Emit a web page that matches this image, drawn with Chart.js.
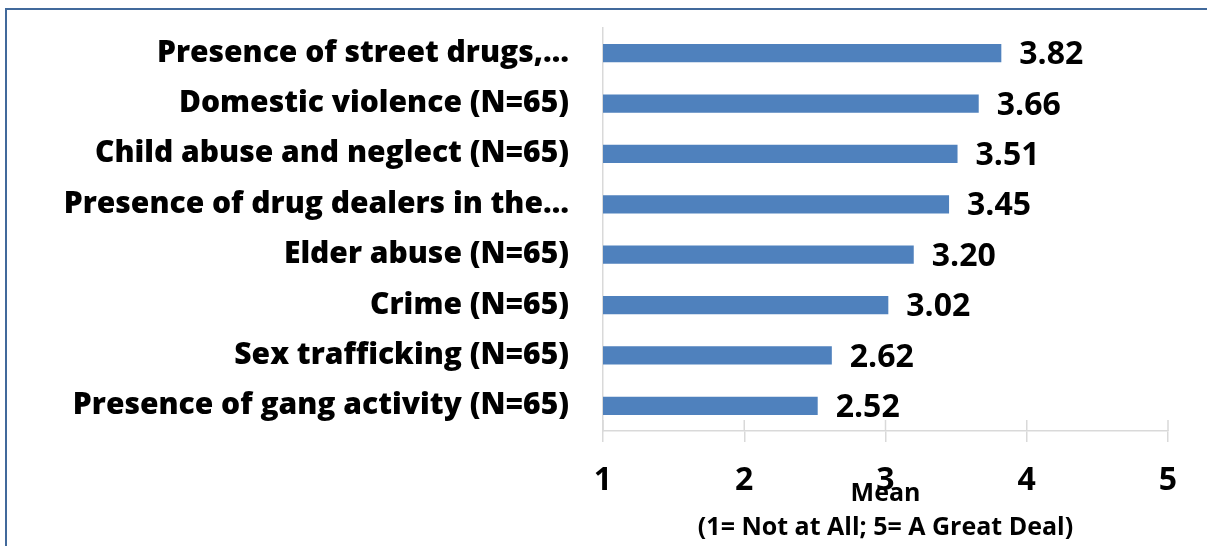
<!DOCTYPE html>
<html>
<head>
<meta charset="utf-8">
<script src="https://cdn.jsdelivr.net/npm/chart.js@4/dist/chart.umd.min.js"></script>
<style>
  html, body { margin: 0; padding: 0; background: #fff; overflow: hidden; width: 1207px; height: 546px; }
  #frame { position: absolute; left: 5px; top: 8px; width: 1400px; height: 800px;
           border-left: 2px solid #41699b; border-top: 2px solid #41699b; }
  #c { position: absolute; left: 0; top: 0; }
</style>
</head>
<body>
<div id="frame"></div>
<canvas id="c" width="1207" height="546"></canvas>
<script>
const categories = [
  "Presence of street drugs,\u2026",
  "Domestic violence (N=65)",
  "Child abuse and neglect (N=65)",
  "Presence of drug dealers in the\u2026",
  "Elder abuse (N=65)",
  "Crime (N=65)",
  "Sex trafficking (N=65)",
  "Presence of gang activity (N=65)"
];
const means = [3.82, 3.66, 3.51, 3.45, 3.20, 3.02, 2.62, 2.52];
const xTickValues = [1, 2, 3, 4, 5];
const xTitleLines = ["Mean", "(1= Not at All; 5= A Great Deal)"];

const FONT = "'Open Sans', sans-serif";
const GRID = "#d9d9d9";

const extras = {
  id: "extras",
  afterDatasetsDraw(chart) {
    const ctx = chart.ctx;
    const meta = chart.getDatasetMeta(0);
    const xs = chart.scales.x;
    ctx.save();
    ctx.strokeStyle = GRID;
    ctx.lineWidth = 1.5;
    xTickValues.forEach(v => {
      const px = xs.getPixelForValue(v);
      ctx.beginPath();
      ctx.moveTo(px, xs.top - 11);
      ctx.lineTo(px, xs.top);
      ctx.stroke();
    });
    ctx.font = "bold 32px " + FONT;
    ctx.fillStyle = "#000";
    ctx.textAlign = "left";
    ctx.textBaseline = "middle";
    meta.data.forEach((bar, i) => {
      ctx.fillText(means[i].toFixed(2), bar.x + 18, bar.y + 2);
    });
    ctx.restore();
  }
};

new Chart(document.getElementById("c"), {
  type: "bar",
  data: {
    labels: categories,
    datasets: [{
      data: means,
      backgroundColor: "#4f81bd",
      borderWidth: 0,
      categoryPercentage: 1,
      barPercentage: 0.36
    }]
  },
  options: {
    indexAxis: "y",
    responsive: false,
    devicePixelRatio: 1,
    animation: false,
    layout: { padding: { top: 28, right: 39, left: 0, bottom: 0 } },
    plugins: { legend: { display: false }, tooltip: { enabled: false } },
    scales: {
      x: {
        min: 1, max: 5,
        afterBuildTicks: s => { s.ticks = xTickValues.map(v => ({ value: v })); },
        afterFit: s => { s.height = 115; s.paddingLeft = 0; s.paddingRight = 0; },
        grid: { display: true, drawOnChartArea: false, drawTicks: true, tickLength: 11, color: GRID, lineWidth: 1.5 },
        border: { display: true, color: GRID, width: 1.5 },
        ticks: { color: "#000", font: { family: FONT, size: 32, weight: "bold" }, padding: 20 },
        title: {
          display: true,
          text: xTitleLines,
          color: "#000",
          font: { family: FONT, size: 25, weight: "bold", lineHeight: 1.36 },
          padding: { top: 0, bottom: 1 }
        }
      },
      y: {
        afterFit: s => { s.width = 603; s.paddingTop = 0; s.paddingBottom = 0; },
        grid: { display: true, drawOnChartArea: false, drawTicks: false, color: GRID },
        border: { display: true, color: GRID, width: 1.5 },
        ticks: { color: "#000", font: { family: FONT, size: 30, weight: 800 }, padding: 34 }
      }
    }
  },
  plugins: [extras]
});
</script>
</body>
</html>
